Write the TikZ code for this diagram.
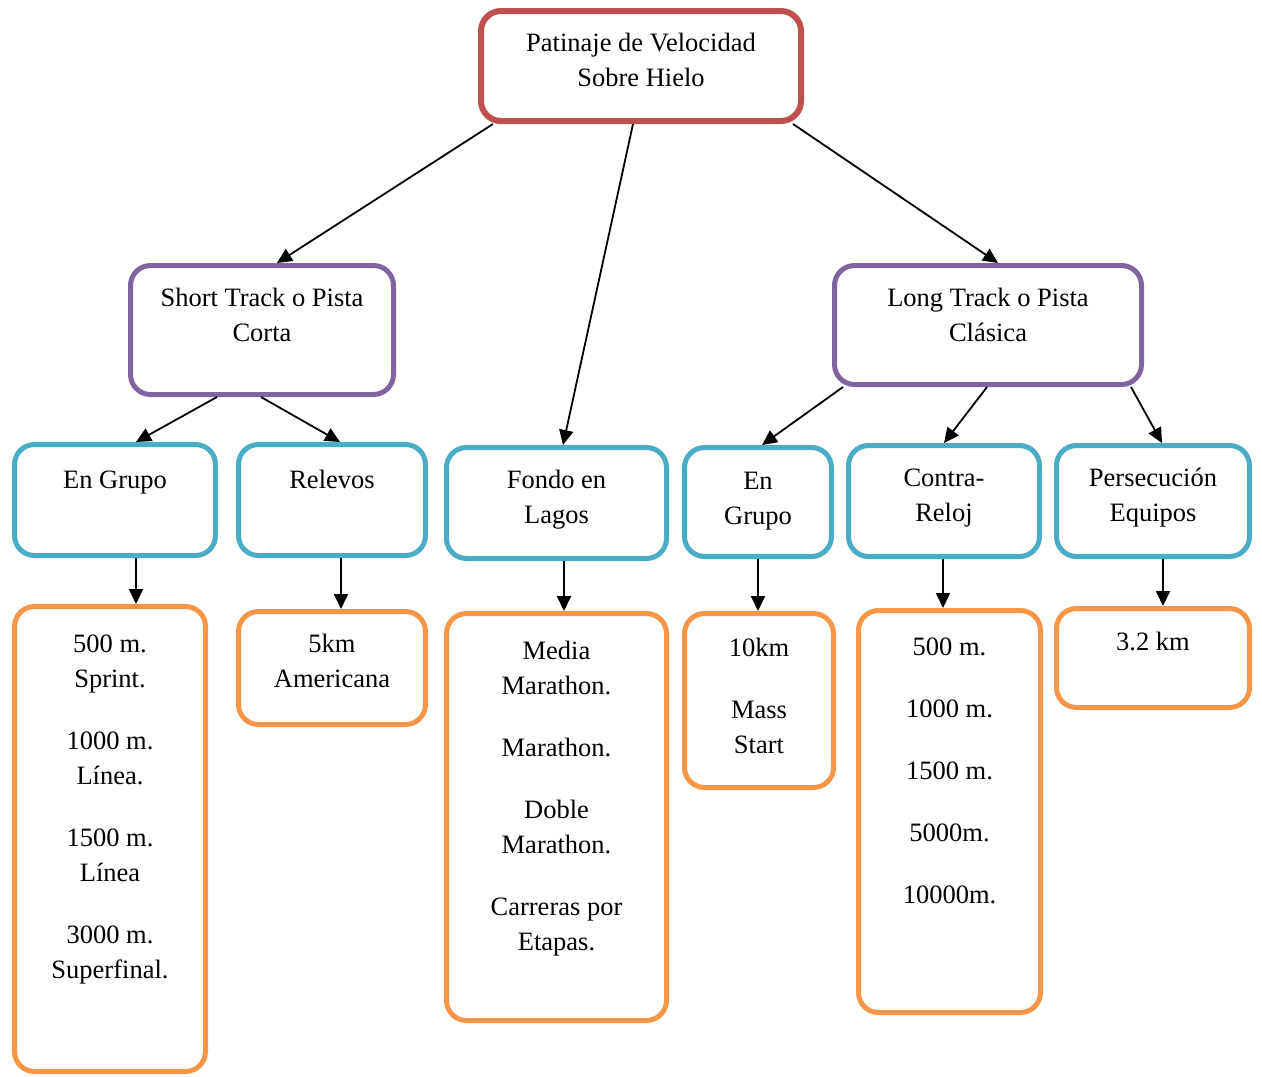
\documentclass[tikz,border=0pt]{standalone}
\usepackage{fontspec}
\setmainfont{Liberation Serif}
\usepackage{xcolor}
\usetikzlibrary{arrows.meta,calc}
\definecolor{RootRed}{HTML}{C0504D}
\definecolor{TrackPurple}{HTML}{8064A2}
\definecolor{ModeBlue}{HTML}{4BACC6}
\definecolor{DistOrange}{HTML}{F79646}
\tikzstyle{baseBox}=[draw, rounded corners=20pt, line width=5pt, inner sep=0pt, fill=white, font=\fontsize{26.5}{35}\selectfont]
\tikzstyle{rootBox}=[baseBox, draw=RootRed, line width=6pt]
\tikzstyle{trackBox}=[baseBox, draw=TrackPurple]
\tikzstyle{modeBox}=[baseBox, draw=ModeBlue]
\tikzstyle{distBox}=[baseBox, draw=DistOrange]
\tikzstyle{link}=[-{Triangle[length=15pt,width=14pt]}, line width=1.8pt]
% width, height, top padding, text
\newcommand{\cellText}[4][16pt]{\parbox[c][#3][t]{#2}{\centering\vspace*{#1}\strut #4\strut\par}}

\begin{document}
\begin{tikzpicture}[x=1pt,y=-1pt]
    \useasboundingbox (0,0) rectangle (1262,1077);

    % Root
    \node[rootBox] (root) at (641,66) {\cellText[15.5pt]{320pt}{110pt}{Patinaje de Velocidad\\Sobre Hielo}};

    % Tracks
    \node[trackBox] (short) at (262,330) {\cellText{263pt}{129pt}{Short Track o Pista\\Corta}};
    \node[trackBox] (long) at (988,325) {\cellText{307pt}{119pt}{Long Track o Pista\\Clásica}};

    % Modes
    \node[modeBox] (grupoA) at (115,500) {\cellText[19pt]{201pt}{111pt}{En Grupo}};
    \node[modeBox] (relevos) at (332,500) {\cellText[19pt]{187pt}{111pt}{Relevos}};
    \node[modeBox] (fondo) at (556.5,503) {\cellText{220pt}{111pt}{Fondo en\\Lagos}};
    \node[modeBox] (grupoB) at (758,502) {\cellText[17pt]{147pt}{109pt}{En\\Grupo}};
    \node[modeBox] (contra) at (944,501) {\cellText{191pt}{111pt}{Contra-\\Reloj}};
    \node[modeBox] (persec) at (1153,501) {\cellText{193pt}{111pt}{Persecución\\Equipos}};

    % Distances
    \node[distBox] (distA) at (110,839) {\cellText[21pt]{191pt}{465pt}{500 m.\\Sprint.\\[27pt]1000 m.\\Línea.\\[27pt]1500 m.\\Línea\\[27pt]3000 m.\\Superfinal.}};
    \node[distBox] (distB) at (332,668) {\cellText{187pt}{113pt}{5km\\Americana}};
    \node[distBox] (distC) at (556.5,817) {\cellText[21pt]{220pt}{407pt}{Media\\Marathon.\\[27pt]Marathon.\\[27pt]Doble\\Marathon.\\[27pt]Carreras por\\Etapas.}};
    \node[distBox] (distD) at (759,700.5) {\cellText[18pt]{149pt}{174pt}{10km\\[27pt]Mass\\Start}};
    \node[distBox] (distE) at (949.5,811.5) {\cellText[20pt]{182pt}{402pt}{500 m.\\[27pt]1000 m.\\[27pt]1500 m.\\[27pt]5000m.\\[27pt]10000m.}};
    \node[distBox] (distF) at (1153,658) {\cellText[17pt]{193pt}{99pt}{3.2 km}};

    % Root links
    \draw[link] ($(root.south)+(-148,0)$) -- ($(short.north)+(15,0)$);
    \draw[link] ($(root.south)+(-8,0)$) -- ($(fondo.north)+(6.5,0)$);
    \draw[link] ($(root.south)+(152,0)$) -- ($(long.north)+(10,0)$);

    % Track links
    \draw[link] ($(short.south)+(-45,0)$) -- ($(grupoA.north)+(21,0)$);
    \draw[link] ($(short.south)+(-1,0)$) -- ($(relevos.north)+(8,0)$);
    \draw[link] ($(long.south)+(-145,0)$) -- ($(grupoB.north)+(4,0)$);
    \draw[link] ($(long.south)+(-1,0)$) -- (contra.north);
    \draw[link] ($(long.south)+(143,0)$) -- ($(persec.north)+(9,0)$);

    % Mode links
    \draw[link] ($(grupoA.south)+(21,0)$) -- ($(distA.north)+(26,0)$);
    \draw[link] ($(relevos.south)+(9,0)$) -- ($(distB.north)+(9,0)$);
    \draw[link] ($(fondo.south)+(7.5,0)$) -- ($(distC.north)+(7.5,0)$);
    \draw[link] (grupoB.south) -- ($(distD.north)+(-1,0)$);
    \draw[link] ($(contra.south)+(-1,0)$) -- ($(distE.north)+(-6.5,0)$);
    \draw[link] ($(persec.south)+(10,0)$) -- ($(distF.north)+(10,0)$);
\end{tikzpicture}
\end{document}
